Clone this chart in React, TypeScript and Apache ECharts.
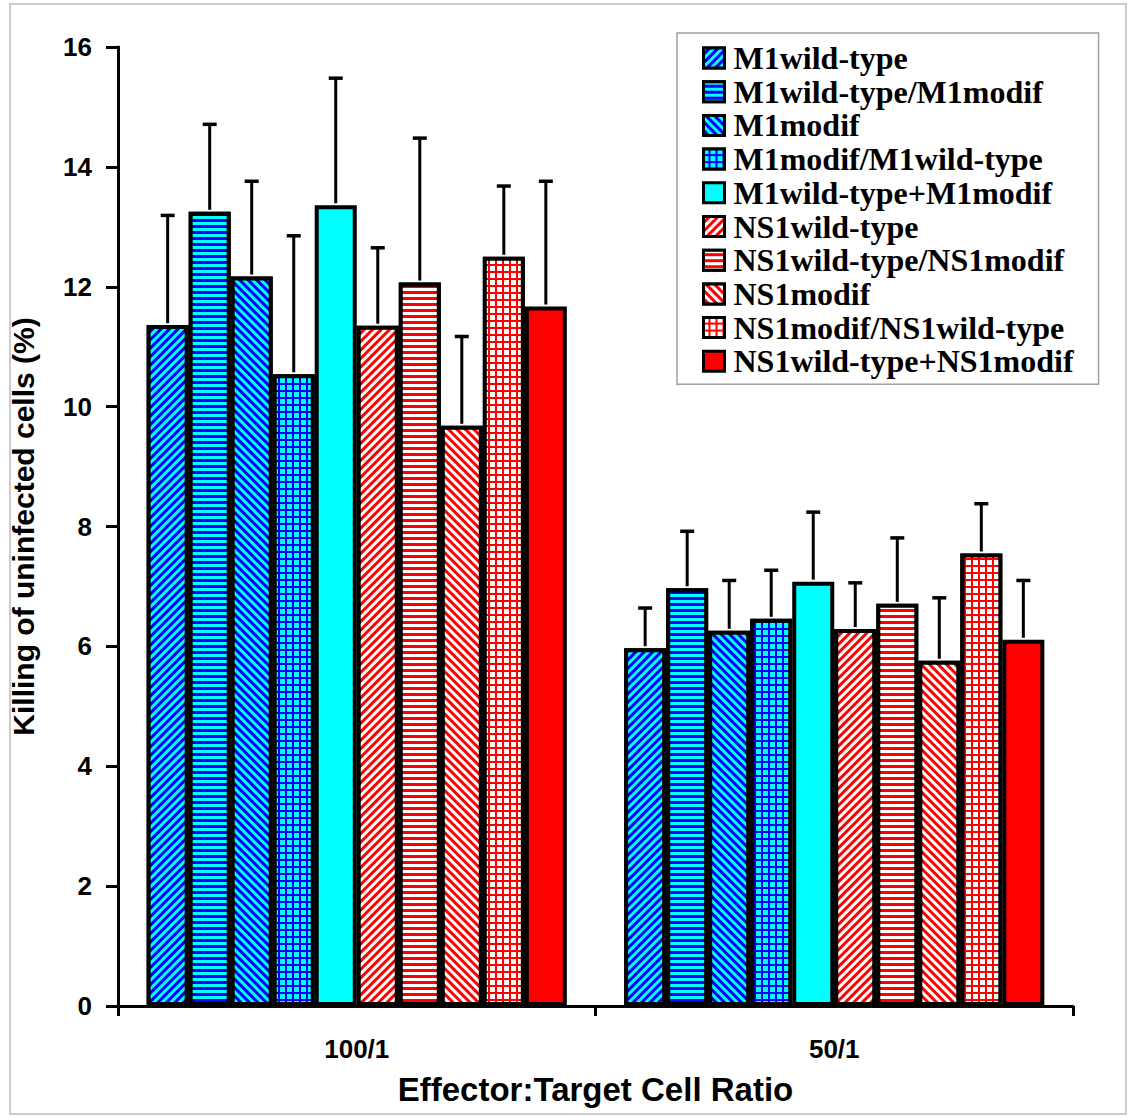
import React, { useEffect, useRef } from 'react';
import * as echarts from 'echarts';

const categories = ['100/1', '50/1'];
const seriesNames = [
  'M1wild-type',
  'M1wild-type/M1modif',
  'M1modif',
  'M1modif/M1wild-type',
  'M1wild-type+M1modif',
  'NS1wild-type',
  'NS1wild-type/NS1modif',
  'NS1modif',
  'NS1modif/NS1wild-type',
  'NS1wild-type+NS1modif',
];
const mean100 = [11.36, 13.25, 12.17, 10.54, 13.36, 11.35, 12.07, 9.68, 12.5, 11.67];
const mean50 = [5.97, 6.97, 6.26, 6.46, 7.08, 6.29, 6.71, 5.76, 7.55, 6.11];
const sd100 = [1.83, 1.46, 1.59, 2.31, 2.12, 1.3, 2.41, 1.49, 1.18, 2.09];
const sd50 = [0.67, 0.95, 0.84, 0.81, 1.16, 0.77, 1.1, 1.05, 0.83, 0.99];

const BLUE = '#0000ff';
const CYAN = '#00ffff';
const RED = '#ff0000';
const WHITE = '#ffffff';
const GAP = 0.12;

function stripes(color: string, rotation: number, on: number, off: number) {
  return { symbol: 'rect', symbolSize: 1, color, dashArrayX: [1, 0], dashArrayY: [on, off], rotation };
}
function gridDecal(color: string, cell: number, line: number) {
  return { symbol: 'rect', symbolSize: 1, color, dashArrayX: [cell, line], dashArrayY: [cell, line], rotation: 0 };
}

const seriesStyles: any[] = [
  { color: BLUE, decal: stripes(CYAN, -Math.PI / 4, 3, 3) },
  { color: BLUE, decal: stripes(CYAN, 0, 3, 3) },
  { color: BLUE, decal: stripes(CYAN, Math.PI / 4, 3, 3) },
  { color: BLUE, decal: gridDecal(CYAN, 5, 2) },
  { color: CYAN, decal: null },
  { color: RED, decal: stripes(WHITE, -Math.PI / 4, 3, 3) },
  { color: RED, decal: stripes(WHITE, 0, 3, 3) },
  { color: RED, decal: stripes(WHITE, Math.PI / 4, 3, 3) },
  { color: RED, decal: gridDecal(WHITE, 5, 2) },
  { color: RED, decal: null },
];

const SANS = '"Liberation Sans", Arial, Helvetica, sans-serif';
const SERIF = '"Liberation Serif", "Times New Roman", serif';

export default function App() {
  const ref = useRef<HTMLDivElement>(null);
  useEffect(() => {
    if (!ref.current) return;
    const chart = echarts.init(ref.current, null, { renderer: 'svg' });

    const barSeries = seriesNames.map((name, i) => {
      const itemStyle: any = {
        color: seriesStyles[i].color,
        borderColor: '#000',
        borderWidth: 4,
      };
      if (seriesStyles[i].decal) itemStyle.decal = seriesStyles[i].decal;
      return {
        name,
        type: 'bar',
        barGap: '0%',
        barCategoryGap: (GAP * 100) + '%',
        itemStyle,
        data: [mean100[i], mean50[i]],
        z: 2,
      };
    });

    const errData: number[][] = [];
    seriesNames.forEach((_, i) => {
      errData.push([0, i, mean100[i], mean100[i] + sd100[i]]);
      errData.push([1, i, mean50[i], mean50[i] + sd50[i]]);
    });

    const errSeries = {
      type: 'custom',
      name: 'error',
      z: 3,
      encode: { x: 0, y: [2, 3] },
      data: errData,
      renderItem: (params: any, api: any) => {
        const c = api.value(0);
        const s = api.value(1);
        const m = api.value(2);
        const t = api.value(3);
        const base = api.coord([c, m]);
        const top = api.coord([c, t]);
        const cw = api.size([1, 0])[0];
        const groupW = cw * (1 - GAP);
        const bw = groupW / seriesNames.length;
        const x = base[0] - groupW / 2 + (s + 0.5) * bw;
        return {
          type: 'group',
          children: [
            { type: 'line', shape: { x1: x, y1: base[1] - 2, x2: x, y2: top[1] }, style: { stroke: '#000', lineWidth: 3 } },
            { type: 'line', shape: { x1: x - 7, y1: top[1], x2: x + 7, y2: top[1] }, style: { stroke: '#000', lineWidth: 3.5 } },
          ],
        };
      },
    };

    chart.setOption({
      animation: false,
      backgroundColor: '#ffffff',
      graphic: [
        {
          type: 'rect',
          shape: { x: 10, y: 4, width: 1116, height: 1110 },
          style: { fill: 'none', stroke: '#cccccc', lineWidth: 2 },
          z: 0,
        },
      ],
      grid: { left: 118, right: 61, top: 47, bottom: 112, containLabel: false },
      legend: {
        data: seriesNames,
        orient: 'vertical',
        left: 677,
        top: 33,
        padding: [9, 25, 7, 25],
        itemGap: 1.7,
        itemWidth: 21,
        itemHeight: 20,
        icon: 'rect',
        borderColor: '#a0a0a0',
        borderWidth: 1.5,
        backgroundColor: '#ffffff',
        selectedMode: false,
        textStyle: {
          fontFamily: SERIF,
          fontWeight: 'bold',
          fontSize: 32,
          lineHeight: 32,
          color: '#000',
          padding: [0, 0, 0, 4],
        },
        itemStyle: { borderColor: '#000', borderWidth: 3 },
      },
      xAxis: {
        type: 'category',
        data: categories,
        name: 'Effector:Target Cell Ratio',
        nameLocation: 'middle',
        nameGap: 67,
        nameTextStyle: { fontFamily: SANS, fontWeight: 'bold', fontSize: 33, color: '#000' },
        axisLine: { lineStyle: { color: '#000', width: 3 } },
        axisTick: { show: true, inside: false, length: 10, lineStyle: { color: '#000', width: 3 } },
        axisLabel: { fontFamily: SANS, fontWeight: 'bold', fontSize: 26, color: '#000', margin: 30 },
        splitLine: { show: false },
      },
      yAxis: {
        type: 'value',
        min: 0,
        max: 16,
        interval: 2,
        name: 'Killing of uninfected cells (%)',
        nameLocation: 'middle',
        nameGap: 80,
        nameTextStyle: { fontFamily: SANS, fontWeight: 'bold', fontSize: 30, color: '#000' },
        axisLine: { show: true, lineStyle: { color: '#000', width: 3 } },
        axisTick: { show: true, inside: false, length: 12, lineStyle: { color: '#000', width: 3 } },
        axisLabel: { fontFamily: SANS, fontWeight: 'bold', fontSize: 26, color: '#000', margin: 26 },
        splitLine: { show: false },
      },
      series: [...barSeries, errSeries],
    });

    return () => chart.dispose();
  }, []);

  return (
    <div
      ref={ref}
      style={{ position: 'absolute', left: 0, top: 0, width: 1134, height: 1118 }}
    />
  );
}
